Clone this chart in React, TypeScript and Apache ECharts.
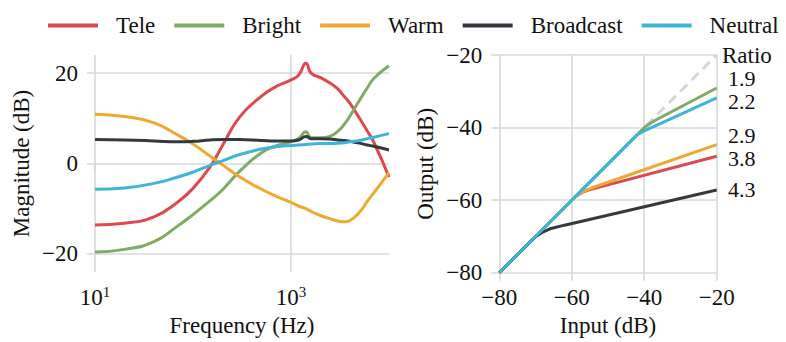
import React, { useEffect, useRef } from 'react';
import * as echarts from 'echarts';

// ---------- data ----------
const seriesNames = ['Tele', 'Bright', 'Warm', 'Broadcast', 'Neutral'];
const seriesColors = ['#dc4a4f', '#80ab64', '#f0a830', '#33393e', '#3db5d8'];

// Frequency response (left panel)
const freqs = [10, 20, 40, 70, 100, 150, 200, 300, 500, 700, 1000, 1200, 1420, 1600, 2000, 2500, 3000, 3500, 4000, 5000, 6000, 7000, 10000];
const teleMag = [-13.6, -13.2, -11.8, -8.5, -5.5, -0.7, 4.0, 10.3, 14.9, 17.0, 18.5, 19.6, 22.2, 20.0, 19.0, 17.8, 16.5, 14.8, 13.3, 10.0, 7.2, 4.7, -3.0];
const brightMag = [-19.6, -19.0, -17.3, -13.8, -11.3, -8.2, -5.8, -1.7, 2.4, 3.9, 4.8, 5.6, 7.0, 5.7, 5.7, 6.0, 7.1, 8.7, 10.5, 14.0, 16.7, 18.8, 21.6];
const warmMag = [10.9, 10.4, 9.0, 6.3, 4.3, 1.6, -0.3, -3.0, -5.7, -7.2, -8.6, -9.4, -10.0, -10.6, -11.5, -12.2, -12.7, -12.9, -12.6, -10.8, -8.4, -6.5, -2.0];
const broadcastMag = [5.3, 5.2, 5.0, 4.8, 4.9, 5.2, 5.3, 5.3, 5.1, 5.0, 5.0, 5.2, 6.0, 5.5, 5.5, 5.4, 5.2, 5.1, 4.9, 4.5, 4.1, 3.8, 3.0];
const neutralMag = [-5.7, -5.4, -4.4, -3.0, -1.9, -0.4, 0.6, 2.0, 3.2, 3.7, 4.0, 4.1, 4.2, 4.3, 4.4, 4.4, 4.5, 4.6, 4.8, 5.1, 5.5, 5.8, 6.6];

// Compressor curves (right panel): [input dB, output dB]
const identityLine = [[-80, -80], [-20, -20]];
const teleComp = [[-80, -80], [-61, -61], [-59, -59.1], [-57, -57.8], [-55, -57.1], [-20, -47.9]];
const brightComp = [[-80, -80], [-42, -42], [-40, -40.05], [-38, -38.6], [-36, -37.5], [-20, -29.1]];
const warmComp = [[-80, -80], [-61, -61], [-59, -59.1], [-57, -57.7], [-55, -56.8], [-20, -44.7]];
const broadcastComp = [[-80, -80], [-72, -72], [-70, -70.1], [-68, -68.8], [-66, -67.9], [-62, -66.9], [-20, -57.2]];
const neutralComp = [[-80, -80], [-44, -44], [-42, -42.05], [-40, -40.9], [-38, -40.0], [-20, -31.8]];

const freqTicks = [10, 1000];
const magTicks = [-20, 0, 20];
const dbTicks = [-80, -60, -40, -20];
const ratioTitle = 'Ratio';
const ratioLabels = ['1.9', '2.2', '2.9', '3.8', '4.3'];

// ---------- layout / style ----------
const FONT = 'Liberation Serif, Times New Roman, Times, DejaVu Serif, serif';
const FS = 23;
const GRID_COLOR = '#d9d9d9';
const TEXT_COLOR = '#111';
const ratioLabelY = [78, 101.5, 135.5, 158.5, 189];

export default function App() {
  const ref = useRef<HTMLDivElement>(null);

  useEffect(() => {
    if (!ref.current) return;
    const chart = echarts.init(ref.current, null, { renderer: 'svg' });
    const minus = (v: number) => String(v).replace('-', '\u2212');

    const eqValues = [teleMag, brightMag, warmMag, broadcastMag, neutralMag];
    const compValues = [teleComp, brightComp, warmComp, broadcastComp, neutralComp];

    const tickStyle = { show: true, length: 8, inside: false, lineStyle: { color: GRID_COLOR, width: 1.6 } };
    const splitStyle = { show: true, lineStyle: { color: GRID_COLOR, width: 1.6 } };
    const nameStyle = { fontSize: FS, fontFamily: FONT, color: TEXT_COLOR };
    const labelBase = { fontSize: FS, fontFamily: FONT, color: TEXT_COLOR };

    const option: any = {
      animation: false,
      textStyle: { fontFamily: FONT },
      legend: {
        data: seriesNames,
        icon: 'rect',
        left: 48,
        top: 14,
        padding: 0,
        itemWidth: 50,
        itemHeight: 4,
        itemGap: 19,
        textStyle: { fontSize: FS, fontFamily: FONT, color: TEXT_COLOR, padding: [0, 0, 0, 13] },
      },
      grid: [
        { left: 95, top: 55, width: 294, height: 217 },
        { left: 499.3, top: 55, width: 217.4, height: 217.7 },
      ],
      xAxis: [
        {
          type: 'log',
          gridIndex: 0,
          logBase: 10,
          min: 10,
          max: 10000,
          axisLine: { show: false },
          axisTick: { ...tickStyle, customValues: freqTicks },
          splitLine: splitStyle,
          axisLabel: {
            ...labelBase,
            margin: 12,
            customValues: freqTicks,
            formatter: (v: number) => `{b|10}{s|${Math.round(Math.log10(v))}}`,
            rich: {
              b: { fontSize: FS, fontFamily: FONT, color: TEXT_COLOR },
              s: { fontSize: 15, fontFamily: FONT, color: TEXT_COLOR, padding: [0, 0, 12, 0] },
            },
          },
          name: 'Frequency (Hz)',
          nameLocation: 'middle',
          nameGap: 37,
          nameTextStyle: nameStyle,
        },
        {
          type: 'value',
          gridIndex: 1,
          min: -80,
          max: -20,
          interval: 20,
          axisLine: { show: false },
          axisTick: { ...tickStyle, customValues: dbTicks },
          splitLine: splitStyle,
          axisLabel: { ...labelBase, margin: 13, customValues: dbTicks, formatter: minus },
          name: 'Input (dB)',
          nameLocation: 'middle',
          nameGap: 37,
          nameTextStyle: nameStyle,
        },
      ],
      yAxis: [
        {
          type: 'value',
          gridIndex: 0,
          min: -24,
          max: 24,
          splitNumber: 2,
          axisLine: { show: false },
          axisTick: { ...tickStyle, customValues: magTicks },
          splitLine: splitStyle,
          axisLabel: { ...labelBase, margin: 17, customValues: magTicks, formatter: minus },
          name: 'Magnitude (dB)',
          nameLocation: 'middle',
          nameGap: 62,
          nameTextStyle: nameStyle,
        },
        {
          type: 'value',
          gridIndex: 1,
          min: -80,
          max: -20,
          interval: 20,
          axisLine: { show: false },
          axisTick: { ...tickStyle, customValues: dbTicks },
          splitLine: splitStyle,
          axisLabel: { ...labelBase, margin: 17, customValues: dbTicks, formatter: minus },
          name: 'Output (dB)',
          nameLocation: 'middle',
          nameGap: 62,
          nameTextStyle: nameStyle,
        },
      ],
      series: [
        ...seriesNames.map((name, i) => ({
          name,
          type: 'line',
          xAxisIndex: 0,
          yAxisIndex: 0,
          data: freqs.map((f, j) => [f, eqValues[i][j]]),
          symbol: 'none',
          smooth: 0.5,
          lineStyle: { width: 3, color: seriesColors[i] },
          itemStyle: { color: seriesColors[i] },
          z: 2 + i,
        })),
        {
          name: 'Unity',
          type: 'line',
          xAxisIndex: 1,
          yAxisIndex: 1,
          data: identityLine,
          symbol: 'none',
          lineStyle: { width: 3, color: '#d6d6d6', type: [10, 6] },
          z: 1,
        },
        ...seriesNames.map((name, i) => ({
          name,
          type: 'line',
          xAxisIndex: 1,
          yAxisIndex: 1,
          data: compValues[i],
          symbol: 'none',
          lineStyle: { width: 3, color: seriesColors[i] },
          itemStyle: { color: seriesColors[i] },
          z: 2 + i,
        })),
      ],
      graphic: [
        {
          type: 'text',
          x: 722,
          y: 55,
          style: { text: ratioTitle, fontSize: FS, fontFamily: FONT, fill: TEXT_COLOR, align: 'left', verticalAlign: 'middle', lineHeight: 20 },
        },
        ...ratioLabels.map((t, i) => ({
          type: 'text',
          x: 728,
          y: ratioLabelY[i],
          style: { text: t, fontSize: 22, fontFamily: FONT, fill: TEXT_COLOR, align: 'left', verticalAlign: 'middle', lineHeight: 20 },
        })),
      ],
    };

    chart.setOption(option);
    return () => chart.dispose();
  }, []);

  return (
    <div
      ref={ref}
      style={{ position: 'absolute', left: 0, top: 0, width: 786, height: 342, background: '#fff' }}
    />
  );
}
